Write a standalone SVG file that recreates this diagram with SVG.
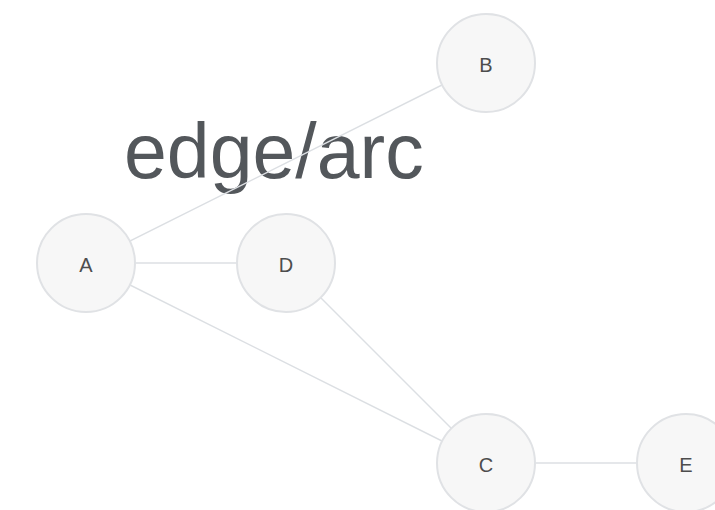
<svg xmlns="http://www.w3.org/2000/svg" width="715" height="510" viewBox="0 0 715 510">
<style>
.title{font-family:"Liberation Sans",Arial,sans-serif;font-size:77px;fill:#53575b}
.edge{stroke:#dcdfe3;stroke-width:1.5;fill:none}
.node circle{fill:#f7f7f7;stroke:#e0e2e5;stroke-width:2}
.node text{font-family:"Liberation Sans",Arial,sans-serif;font-size:20px;fill:#4d4d4d;text-anchor:middle;dominant-baseline:central}
</style>
<rect width="715" height="510" fill="#ffffff"/>
<text class="title" x="124" y="178">edge/arc</text>
<g id="edges">
<line class="edge" x1="86" y1="263" x2="486" y2="63"/>
<line class="edge" x1="86" y1="263" x2="286" y2="263"/>
<line class="edge" x1="86" y1="263" x2="486" y2="463"/>
<line class="edge" x1="286" y1="263" x2="486" y2="463"/>
<line class="edge" x1="486" y1="463" x2="686" y2="463"/>
</g>
<g id="node-B" class="node"><circle cx="486" cy="63" r="49"/><text x="486" y="65">B</text></g>
<g id="node-A" class="node"><circle cx="86" cy="263" r="49"/><text x="86" y="265">A</text></g>
<g id="node-D" class="node"><circle cx="286" cy="263" r="49"/><text x="286" y="265">D</text></g>
<g id="node-C" class="node"><circle cx="486" cy="463" r="49"/><text x="486" y="465">C</text></g>
<g id="node-E" class="node"><circle cx="686" cy="463" r="49"/><text x="686" y="465">E</text></g>
</svg>
